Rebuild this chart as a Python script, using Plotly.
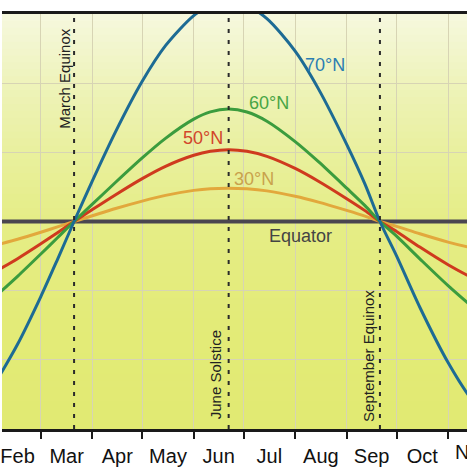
import plotly.graph_objects as go
import pandas as pd

# ---------------- data ----------------
dates = ["2023-02-01", "2023-02-15", "2023-03-01", "2023-03-11", "2023-03-21",
         "2023-04-01", "2023-04-15", "2023-05-01", "2023-05-15", "2023-06-01",
         "2023-06-11", "2023-06-22", "2023-07-03", "2023-07-15", "2023-08-01",
         "2023-08-15", "2023-09-01", "2023-09-12", "2023-09-21", "2023-10-01",
         "2023-10-15", "2023-11-01", "2023-11-15", "2023-12-01"]

equator = [12, 12, 12, 12, 12, 12, 12, 12, 12, 12, 12, 12,
           12, 12, 12, 12, 12, 12, 12, 12, 12, 12, 12, 12]
lat30 = [10.61, 10.97, 11.38, 11.69, 12.0, 12.33, 12.75, 13.18, 13.51, 13.80,
         13.90, 13.93, 13.89, 13.77, 13.46, 13.12, 12.64, 12.31, 12.0, 11.72,
         11.29, 10.81, 10.48, 10.20]
lat50 = [9.07, 9.85, 10.71, 11.35, 12.0, 12.69, 13.55, 14.48, 15.19, 15.83,
         16.06, 16.15, 16.06, 15.77, 15.07, 14.33, 13.32, 12.63, 12.0, 11.42,
         10.52, 9.50, 8.78, 8.15]
lat60 = [7.61, 8.83, 10.12, 11.06, 12.0, 13.00, 14.27, 15.68, 16.81, 17.92,
         18.34, 18.50, 18.33, 17.80, 16.62, 15.46, 13.93, 12.92, 12.0, 11.15,
         9.84, 8.29, 7.13, 6.06]
lat70 = [2.56, 4.90, 7.66, 9.80, 12.0, 14.35, 17.20, 20.11, 22.17, 23.91,
         24.48, 24.70, 24.48, 23.73, 21.85, 19.67, 16.46, 14.16, 12.0, 10.01,
         7.04, 3.84, 1.73, 0.07]

event_dates = ["2023-03-21", "2023-06-22", "2023-09-21"]
event_names = ["March Equinox", "June Solstice", "September Equinox"]

months = ["Feb", "Mar", "Apr", "May", "Jun", "Jul", "Aug", "Sep", "Oct", "Nov"]
month_starts = ["2023-02-01", "2023-03-01", "2023-04-01", "2023-05-01", "2023-06-01",
                "2023-07-01", "2023-08-01", "2023-09-01", "2023-10-01", "2023-11-01",
                "2023-12-01"]

x_range = ["2023-02-05 15:20", "2023-11-12 09:10"]

# ---------------- figure ----------------
fig = go.Figure()

series = [
    ("Equator", equator, "#4a4650", 4),
    ("30°N", lat30, "#e2a83c", 3),
    ("50°N", lat50, "#cf3a1e", 3),
    ("60°N", lat60, "#3b9c3e", 3),
    ("70°N", lat70, "#1d6b94", 3),
]
for name, vals, col, w in series:
    fig.add_trace(go.Scatter(x=dates, y=vals, mode="lines", name=name,
                             line=dict(color=col, width=w, shape="spline", smoothing=0.8),
                             hoverinfo="skip"))

# gradient background
stops = [(0.0, (246, 248, 222)), (0.17, (238, 243, 186)), (0.33, (233, 240, 158)),
         (0.5, (229, 237, 134)), (0.75, (227, 235, 120)), (1.0, (225, 234, 114))]

def grad(f):
    for (f0, c0), (f1, c1) in zip(stops[:-1], stops[1:]):
        if f0 <= f <= f1:
            t = (f - f0) / (f1 - f0)
            return "rgb(%d,%d,%d)" % tuple(round(a + (b - a) * t) for a, b in zip(c0, c1))
    return "rgb(%d,%d,%d)" % stops[-1][1]

N = 60
for i in range(N):
    fig.add_shape(type="rect", xref="paper", yref="paper", x0=0, x1=1,
                  y0=max(0, 1 - (i + 1) / N - 0.006), y1=1 - i / N,
                  fillcolor=grad((i + 0.5) / N), line=dict(width=0), layer="below")

# event lines
for d in event_dates:
    fig.add_shape(type="line", xref="x", yref="paper", x0=d, x1=d, y0=0, y1=1,
                  line=dict(color="#2a2a2a", width=2, dash="4px,7px"), layer="above")

font_family = "Liberation Sans, Arial, Helvetica, sans-serif"

# event labels (rotated)
ev_pos = [("2023-03-15 10:00", 20.3), ("2023-06-14 05:00", 3.15), ("2023-09-14 03:00", 4.2)]
for (xp, yp), name in zip(ev_pos, event_names):
    fig.add_annotation(x=xp, y=yp, xref="x", yref="y", text=name, showarrow=False,
                       textangle=-90, font=dict(family=font_family, size=15, color="#222222"))

# curve labels
labels = [
    ("70°N", "2023-08-18 18:00", 21.06, "#2b7db2", "center"),
    ("60°N", "2023-07-16 05:00", 18.87, "#47a545", "center"),
    ("50°N", "2023-06-06 17:00", 16.85, "#d2452a", "center"),
    ("30°N", "2023-07-07 05:00", 14.48, "#c9a24c", "center"),
    ("Equator", "2023-07-15 00:00", 11.14, "#444444", "left"),
]
for txt, xp, yp, col, anc in labels:
    fig.add_annotation(x=xp, y=yp, xref="x", yref="y", text=txt, showarrow=False,
                       xanchor=anc, font=dict(family=font_family, size=18, color=col))

# month labels at period centres
ms = pd.to_datetime(month_starts)
mids = [ms[i] + (ms[i + 1] - ms[i]) / 2 for i in range(len(ms) - 1)]
r0, r1 = pd.Timestamp(x_range[0]), pd.Timestamp(x_range[1])
in_vals = [m for m in mids if r0 <= m <= r1]
in_text = [t for m, t in zip(mids, months) if r0 <= m <= r1]
for m, t in zip(mids, months):
    if m > r1:
        fx = (m - r0) / (r1 - r0)
        fig.add_annotation(x=fx, xref="paper", xanchor="center", y=0, yref="paper",
                           yanchor="top", yshift=-10, text=t, showarrow=False,
                           font=dict(family=font_family, size=20, color="#111111"))

fig.update_xaxes(
    type="date", range=x_range,
    tickmode="array", tickvals=in_vals, ticktext=in_text,
    ticks="outside", ticklen=7, tickcolor="rgba(0,0,0,0)",
    ticklabeloverflow="allow",
    tickfont=dict(family=font_family, size=20, color="#111111"),
    showgrid=False, zeroline=False,
    showline=True, linecolor="#1a1a1a", linewidth=3, mirror=True,
    minor=dict(tickmode="array", tickvals=month_starts, ticks="outside", ticklen=7,
               tickwidth=2, tickcolor="#1a1a1a", showgrid=True,
               gridcolor="#d7d4b4", gridwidth=1),
)
fig.update_yaxes(range=[0, 24], tickmode="linear", tick0=0, dtick=4,
                 showgrid=True, gridcolor="#d7d4b4", gridwidth=1,
                 showticklabels=False, zeroline=False, showline=False, ticks="")

fig.update_layout(
    width=467, height=467,
    margin=dict(l=0, r=0, t=14, b=37),
    paper_bgcolor="white", plot_bgcolor="rgba(0,0,0,0)",
    showlegend=False,
)

fig.write_html("out.html")
